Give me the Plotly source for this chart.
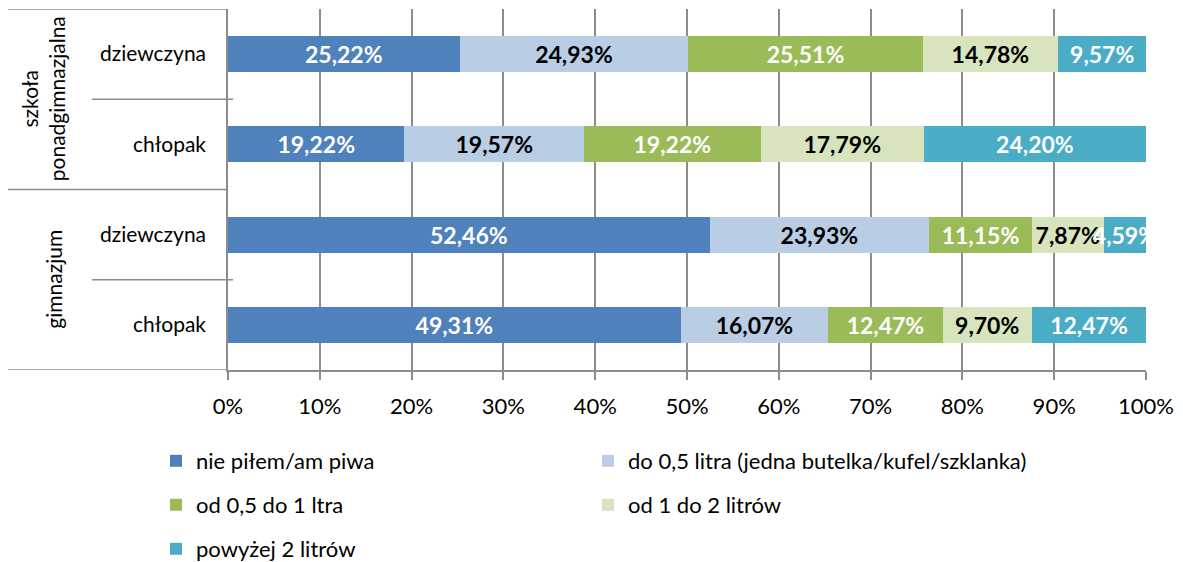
import plotly.graph_objects as go

# ---- data (rows listed bottom to top) ----
group_labels = ["gimnazjum", "gimnazjum", "szkoła<br>ponadgimnazjalna", "szkoła<br>ponadgimnazjalna"]
row_labels = ["chłopak", "dziewczyna", "chłopak", "dziewczyna"]
series_names = [
    "nie piłem/am piwa",
    "do 0,5 litra (jedna butelka/kufel/szklanka)",
    "od 0,5 do 1 ltra",
    "od 1 do 2 litrów",
    "powyżej 2 litrów",
]
nie_pilem = [49.31, 52.46, 19.22, 25.22]
do_05 = [16.07, 23.93, 19.57, 24.93]
od_05_do_1 = [12.47, 11.15, 19.22, 25.51]
od_1_do_2 = [9.70, 7.87, 17.79, 14.78]
powyzej_2 = [12.47, 4.59, 24.20, 9.57]
x_ticks = [0, 10, 20, 30, 40, 50, 60, 70, 80, 90, 100]
x_tick_labels = ["0%", "10%", "20%", "30%", "40%", "50%", "60%", "70%", "80%", "90%", "100%"]

series_values = [nie_pilem, do_05, od_05_do_1, od_1_do_2, powyzej_2]
colors = ["#4F81BD", "#B9CDE5", "#9BBB59", "#D7E4BD", "#4BACC6"]
text_colors = ["white", "black", "white", "black", "white"]
legend_ids = ["legend", "legend2", "legend3", "legend4", "legend5"]

FONT = "Lato"
GRID = "#8C8C8C"

W, H = 1183, 562
L, R, T, B = 228, 37, 9, 192
plot_w = W - L - R
plot_h = H - T - B

y_pos = list(range(len(row_labels)))

fig = go.Figure()
for name, vals, col, tcol, lg in zip(series_names, series_values, colors, text_colors, legend_ids):
    fig.add_trace(go.Bar(
        y=y_pos, x=vals, name=name, orientation="h",
        marker=dict(color=col, line=dict(width=0)),
        texttemplate="%{x:.2f}%", textposition="inside", insidetextanchor="middle",
        textangle=0, insidetextfont=dict(color=tcol, size=23, family=FONT, weight="bold"),
        width=0.4, legend=lg, hoverinfo="skip",
    ))


def px_x(px):
    return (px - L) / plot_w


shapes = []
line_style = dict(color=GRID, width=1.5)
for yv in [-0.5, 1.5, 3.5]:
    shapes.append(dict(type="line", xref="paper", yref="y", x0=px_x(8), x1=0, y0=yv, y1=yv, line=line_style))
for yv in [0.5, 2.5]:
    shapes.append(dict(type="line", xref="paper", yref="y", x0=px_x(92), x1=px_x(233), y0=yv, y1=yv, line=line_style))

annotations = []
group_centers = {"gimnazjum": (0.5, 54), "szkoła<br>ponadgimnazjalna": (2.5, 43)}
for g, (yc, xc) in group_centers.items():
    annotations.append(dict(
        text=g, xref="paper", yref="y", x=px_x(xc), y=yc, textangle=-90,
        showarrow=False, xanchor="center", yanchor="middle",
        font=dict(size=21, family=FONT, color="black"),
    ))

legend_common = dict(
    orientation="h", xref="container", yref="container", xanchor="left", yanchor="middle",
    font=dict(size=22, family=FONT, color="black"),
    bgcolor="rgba(0,0,0,0)",
)
# legend placement: (x of legend box left, y of row centre) in pixels
legend_places = [(156, 461), (588, 461), (156, 505), (588, 505), (156, 549)]
legend_layout = {
    lid: dict(x=px / W, y=(H - py) / H, **legend_common)
    for lid, (px, py) in zip(legend_ids, legend_places)
}

fig.update_layout(
    width=W, height=H,
    margin=dict(l=L, r=R, t=T, b=B, autoexpand=False),
    barmode="stack",
    plot_bgcolor="white", paper_bgcolor="white",
    separators=", ",
    font=dict(family=FONT, size=21, color="black"),
    xaxis=dict(
        range=[0, 100], tickmode="array", tickvals=x_ticks, ticktext=x_tick_labels,
        showgrid=True, gridcolor=GRID, gridwidth=1.5,
        showline=True, linecolor=GRID, linewidth=1.5,
        ticks="outside", ticklen=8, tickcolor=GRID, tickwidth=1.5,
        ticklabelstandoff=8, zeroline=False,
        tickfont=dict(size=22, family=FONT, color="black"),
    ),
    yaxis=dict(
        range=[-0.5, 3.5], tickmode="array", tickvals=y_pos, ticktext=row_labels,
        showgrid=False, zeroline=False,
        showline=True, linecolor=GRID, linewidth=1.5,
        ticks="", ticklabelstandoff=16,
        tickfont=dict(size=21, family=FONT, color="black"),
    ),
    shapes=shapes,
    annotations=annotations,
    uniformtext=dict(minsize=23, mode="show"),
    showlegend=True,
    **legend_layout,
)

fig.write_html(
    "out.html",
    config={"displayModeBar": False},
    post_script="document.body.style.margin='0';document.body.style.padding='0';document.body.style.overflow='hidden';",
)
